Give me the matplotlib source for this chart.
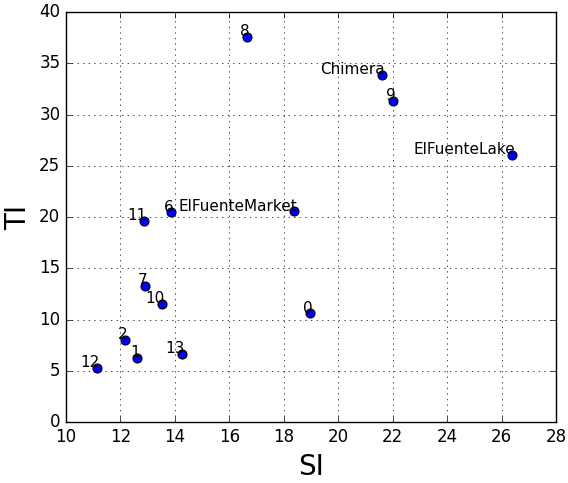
import matplotlib
matplotlib.use("Agg")
import matplotlib.pyplot as plt

plt.style.use("classic")

# Dane
labels = ["0", "1", "2", "6", "7", "8", "9", "10", "11", "12", "13",
          "Chimera", "ElFuenteLake", "ElFuenteMarket"]
si = [18.96, 12.6, 12.17, 13.86, 12.9, 16.65, 22.0, 13.53, 12.87, 11.14, 14.26,
      21.6, 26.39, 18.38]
ti = [10.6, 6.25, 8.0, 20.45, 13.25, 37.55, 31.35, 11.5, 19.6, 5.3, 6.63,
      33.85, 26.05, 20.55]

fig = plt.figure(figsize=(5.68, 4.83), dpi=100, facecolor="white")
ax = fig.add_axes([0.116, 0.126, 0.863, 0.849])

ax.scatter(si, ti, s=42, c="b", edgecolors="k", linewidths=0.8, zorder=3)
for lab, x, y in zip(labels, si, ti):
    ax.annotate(lab, xy=(x, y), xytext=(2, -1.5), textcoords="offset points",
                ha="right", va="bottom", fontsize=11)

ax.set_xlim(10, 28)
ax.set_ylim(0, 40)
ax.set_xticks(range(10, 29, 2))
ax.set_yticks(range(0, 41, 5))
ax.tick_params(labelsize=12)
ax.grid(True, linestyle=":", color="k")
ax.set_xlabel("SI", fontsize=20)
ax.set_ylabel("TI", fontsize=20)

fig.savefig("out.png", dpi=100, facecolor="white")
